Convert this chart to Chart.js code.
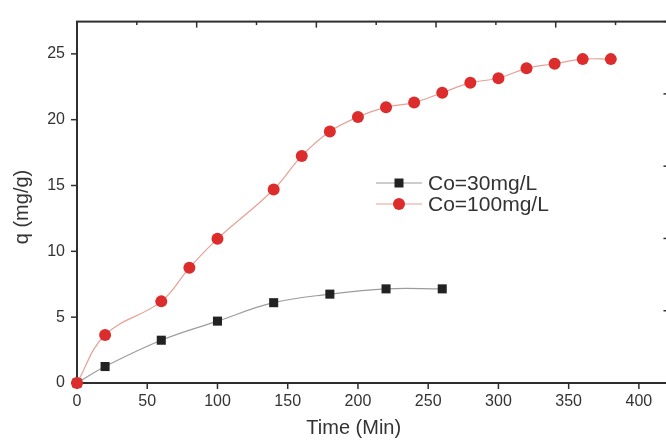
<!DOCTYPE html>
<html>
<head>
<meta charset="utf-8">
<script src="https://cdn.jsdelivr.net/npm/chart.js@4.4.0/dist/chart.umd.min.js"></script>
<style>
  html, body { margin: 0; padding: 0; background: #fff; overflow: hidden; }
  #wrap { position: relative; width: 690px; height: 440px; }
</style>
</head>
<body>
<div id="wrap"><canvas id="chart"></canvas></div>
<script>
// data
const timeLow  = [0, 20, 60, 100, 140, 180, 220, 260];
const qLow     = [0, 1.25, 3.25, 4.7, 6.1, 6.75, 7.15, 7.15];
const timeHigh = [0, 20, 60, 80, 100, 140, 160, 180, 200, 220, 240, 260, 280, 300, 320, 340, 360, 380];
const qHigh    = [0, 3.65, 6.2, 8.75, 10.95, 14.7, 17.25, 19.1, 20.2, 20.95, 21.3, 22.05, 22.8, 23.15, 23.9, 24.25, 24.6, 24.6];
const seriesNames = ["Co=30mg/L", "Co=100mg/L"];
const xTitle = "Time (Min)";
const yTitle = "q (mg/g)";

const FONT = "'Liberation Sans', Arial, sans-serif";
const AXIS = "#2e2e2e";
const TEXT = "#333333";

const RED_LINE = "#e6a196";
const RED_MARK = "#dc2c2c";
const BLK_LINE = "#9c9c9c";
const BLK_MARK = "#222222";

function toPoints(xs, ys) {
    return xs.map((x, i) => ({ x: x, y: ys[i] }));
}

/* ── Axes box, ticks, titles, legend ───────────────────────── */

const frame = {
    id: "frame",
    beforeDatasetsDraw(chart) {
        const { ctx, chartArea: a, scales } = chart;
        ctx.save();
        ctx.strokeStyle = AXIS;
        ctx.lineWidth = 1.5;

        // bottom / left ticks point outward
        scales.x.ticks.forEach((t) => {
            const px = scales.x.getPixelForValue(t.value);
            const len = t.value % 50 === 0 ? 6 : 3.5;
            ctx.beginPath(); ctx.moveTo(px, a.bottom); ctx.lineTo(px, a.bottom + len); ctx.stroke();
        });
        scales.y.ticks.forEach((t) => {
            const py = scales.y.getPixelForValue(t.value);
            const len = t.value % 5 === 0 ? 6 : 3.5;
            ctx.beginPath(); ctx.moveTo(a.left, py); ctx.lineTo(a.left - len, py); ctx.stroke();
        });
        // top / right ticks point inward
        scales.x2.ticks.forEach((t) => {
            const px = scales.x2.getPixelForValue(t.value);
            const len = Number.isInteger(t.value) ? 6 : 3.5;
            ctx.beginPath(); ctx.moveTo(px, a.top); ctx.lineTo(px, a.top + len); ctx.stroke();
        });
        scales.y2.ticks.forEach((t) => {
            const py = scales.y2.getPixelForValue(t.value);
            ctx.beginPath(); ctx.moveTo(a.right, py); ctx.lineTo(a.right - 3.5, py); ctx.stroke();
        });

        ctx.lineWidth = 2;
        ctx.strokeRect(a.left, a.top, a.right - a.left, a.bottom - a.top);

        // axis titles
        ctx.fillStyle = TEXT;
        ctx.font = `20px ${FONT}`;
        ctx.textAlign = "center";
        ctx.textBaseline = "middle";
        ctx.fillText(xTitle, scales.x.getPixelForValue(197), 428);
        ctx.translate(22, 207);
        ctx.rotate(-Math.PI / 2);
        ctx.fillText(yTitle, 0, 0);
        ctx.restore();
    },
    afterDraw(chart) {
        const { ctx } = chart;
        const rows = [
            { name: seriesNames[0], line: BLK_LINE, mark: BLK_MARK, style: "rect",   y: 183 },
            { name: seriesNames[1], line: RED_LINE, mark: RED_MARK, style: "circle", y: 204 },
        ];
        ctx.save();
        rows.forEach((r) => {
            ctx.strokeStyle = r.line;
            ctx.lineWidth = 1.2;
            ctx.beginPath(); ctx.moveTo(376, r.y); ctx.lineTo(422, r.y); ctx.stroke();
            ctx.fillStyle = r.mark;
            if (r.style === "rect") {
                ctx.fillRect(399 - 4.5, r.y - 4.5, 9, 9);
            } else {
                ctx.beginPath(); ctx.arc(399, r.y, 6, 0, Math.PI * 2); ctx.fill();
            }
            ctx.fillStyle = TEXT;
            ctx.font = `21px ${FONT}`;
            ctx.textAlign = "left";
            ctx.textBaseline = "middle";
            ctx.fillText(r.name, 428, r.y + 1);
        });
        ctx.restore();
    },
};

/* ── Chart ─────────────────────────────────────────────────── */

new Chart(document.getElementById("chart"), {
    type: "line",
    data: {
        datasets: [
            {
                label: seriesNames[1],
                data: toPoints(timeHigh, qHigh),
                borderColor: RED_LINE,
                borderWidth: 1.2,
                backgroundColor: RED_MARK,
                pointStyle: "circle",
                pointRadius: 6,
                pointBorderWidth: 0,
                pointBorderColor: RED_MARK,
                tension: 0.4,
                clip: false,
            },
            {
                label: seriesNames[0],
                data: toPoints(timeLow, qLow),
                borderColor: BLK_LINE,
                borderWidth: 1.2,
                backgroundColor: BLK_MARK,
                pointStyle: "rect",
                pointRadius: 6.4,
                pointBorderWidth: 0,
                pointBorderColor: BLK_MARK,
                tension: 0.4,
                clip: false,
            },
        ],
    },
    options: {
        responsive: true,
        maintainAspectRatio: false,
        animation: false,
        layout: { padding: { top: 11, right: 23, left: 0, bottom: 0 } },
        plugins: { legend: { display: false }, tooltip: { enabled: false } },
        scales: {
            x: {
                type: "linear",
                position: "bottom",
                min: 0,
                max: 420,
                grid: { display: false, drawTicks: false },
                border: { display: false },
                ticks: {
                    stepSize: 25,
                    includeBounds: false,
                    autoSkip: false,
                    maxRotation: 0,
                    padding: 9,
                    color: TEXT,
                    font: { family: FONT, size: 16 },
                    callback: (v) => (v % 50 === 0 ? v : null),
                },
                afterFit: (s) => { s.height = 57; },
            },
            y: {
                type: "linear",
                position: "left",
                min: 0,
                max: 27.45,
                grid: { display: false, drawTicks: false },
                border: { display: false },
                ticks: {
                    stepSize: 2.5,
                    includeBounds: false,
                    autoSkip: false,
                    padding: 12,
                    color: TEXT,
                    font: { family: FONT, size: 16 },
                    callback: (v) => (v % 5 === 0 ? v : null),
                },
                afterFit: (s) => { s.width = 77; },
            },
            x2: {
                type: "linear",
                position: "top",
                min: 0,
                max: 4.93,
                grid: { display: false, drawTicks: false },
                border: { display: false },
                ticks: { display: false, stepSize: 0.5, includeBounds: false },
                afterFit: (s) => { s.height = 0; },
            },
            y2: {
                type: "linear",
                position: "right",
                min: 0,
                max: 5,
                grid: { display: false, drawTicks: false },
                border: { display: false },
                ticks: { display: false, stepSize: 1, includeBounds: false },
                afterFit: (s) => { s.width = 0; },
            },
        },
    },
    plugins: [frame],
});
</script>
</body>
</html>
